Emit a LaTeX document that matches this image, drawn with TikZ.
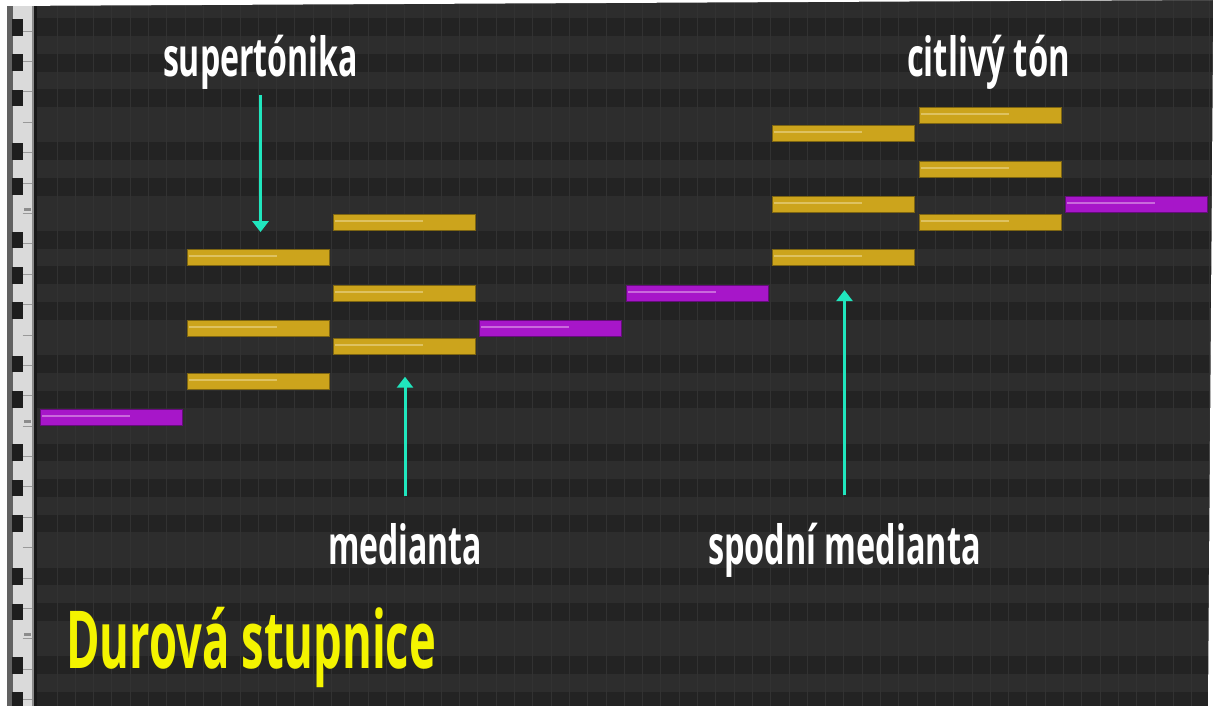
\documentclass[tikz,border=0pt]{standalone}
\usepackage{fontspec}
\setmainfont{Open Sans}
\usepackage{graphicx}
\usetikzlibrary{arrows.meta}

\definecolor{rollLight}{HTML}{2D2D2D}
\definecolor{rollDark}{HTML}{232323}
\definecolor{gridLine}{HTML}{323232}
\definecolor{keyWhite}{HTML}{DADADA}
\definecolor{keyBlack}{HTML}{1E1E1E}
\definecolor{noteYellow}{HTML}{CCA41C}
\definecolor{noteYellowEdge}{HTML}{7D6512}
\definecolor{noteYellowHi}{HTML}{DEC261}
\definecolor{noteMagenta}{HTML}{A716C9}
\definecolor{noteMagentaEdge}{HTML}{650C7B}
\definecolor{noteMagentaHi}{HTML}{C96ADC}
\definecolor{pointerCol}{HTML}{20E6BE}
\definecolor{titleYellow}{HTML}{F4F400}

% \pnote{name}{slot}{row}{colour style}
\newcommand{\pnote}[4]{%
  \node[#4] (#1) at ({38.5+146.4*#2+73.2}, {107+17.72*#3+8.86}) {};
  \draw[#4hl] ([xshift=2pt,yshift=1.5pt]#1.west) -- ++(88,0);
}

\tikzset{
  yel/.style={draw=noteYellowEdge, fill=noteYellow, line width=1pt, inner sep=0pt,
    minimum width=142pt, minimum height=16pt},
  mag/.style={yel, draw=noteMagentaEdge, fill=noteMagenta},
  yelhl/.style={draw=noteYellowHi, line width=2pt},
  maghl/.style={draw=noteMagentaHi, line width=2pt},
  lbl/.style={text=white, inner sep=0pt, anchor=base,
    font=\fontsize{54}{54}\selectfont\bfseries},
  pointer/.style={draw=pointerCol, line width=3pt, -{Triangle[width=16pt,length=11pt]}},
}

\begin{document}
\begin{tikzpicture}[x=1pt, y=-1pt]
  \useasboundingbox (0,0) rectangle (1213,706);

  % piano roll background
  \fill[rollLight] (0,0) rectangle (1213,706);
  \foreach \r in {-5,-3,-1,2,4,7,9,11,14,16,19,21,23,26,28,31,33}
    \fill[rollDark] (37,{107+17.72*\r}) rectangle (1213,{107+17.72*(\r+1)});
  \foreach \k in {1,...,64}
    \draw[gridLine, line width=0.6pt] ({38.5+18.3*\k},0) -- ({38.5+18.3*\k},706);

  % keyboard
  \fill[white] (0,0) rectangle (7,706);
  \fill[black!62] (7,0) rectangle (13,706);
  \fill[keyWhite] (13,0) rectangle (33,706);
  \foreach \k in {-7,...,16}
    \draw[black!40, line width=0.8pt] (22.5,{213.4+30.38*\k}) -- (33,{213.4+30.38*\k});
  \foreach \r in {-5,-3,-1,2,4,7,9,11,14,16,19,21,23,26,28,31,33}
    \fill[keyBlack] (11.5,{107+17.72*\r+0.5}) rectangle (22.5,{107+17.72*(\r+1)-0.5});
  \foreach \r in {5,17,29}
    \fill[black!45] (24,{107+17.72*\r+12}) rectangle (31,{107+17.72*\r+15});
  \fill[black!45] (32,0) rectangle (34,706);
  \fill[black!90] (34,0) rectangle (37,706);
  \fill[white] (0,0) -- (1213,0) -- (0,6) -- cycle;
  \fill[white] (1213,40) -- (1213,706) -- (1208,706) -- cycle;

  % notes of the scale
  \pnote{c1}{0}{17}{mag}
  \pnote{d1}{1}{15}{yel}
  \pnote{f1}{1}{12}{yel}
  \pnote{a1}{1}{8}{yel}
  \pnote{e2}{2}{13}{yel}
  \pnote{g2}{2}{10}{yel}
  \pnote{b2}{2}{6}{yel}
  \pnote{f3}{3}{12}{mag}
  \pnote{g4}{4}{10}{mag}
  \pnote{a5}{5}{8}{yel}
  \pnote{c5}{5}{5}{yel}
  \pnote{e5}{5}{1}{yel}
  \pnote{b6}{6}{6}{yel}
  \pnote{d6}{6}{3}{yel}
  \pnote{f6}{6}{0}{yel}
  \pnote{c7}{7}{5}{mag}

  % labels
  \node[lbl] (supert) at (260.5,77) {\resizebox{195pt}{\height}{supertónika}};
  \node[lbl] (citliv) at (988.5,77) {\resizebox{163pt}{\height}{citlivý tón}};
  \node[lbl] (med) at (405,564) {\resizebox{154pt}{\height}{medianta}};
  \node[lbl] (spmed) at (844.5,564) {\resizebox{273pt}{\height}{spodní medianta}};
  \node[lbl, anchor=base west, text=titleYellow, font=\fontsize{80}{80}\selectfont\bfseries]
    (title) at (66,668) {\resizebox{370pt}{\height}{Durová stupnice}};

  % pointers
  \draw[pointer, shorten <=5pt, shorten >=17pt] (supert.south) -- (supert.south |- a1.north);
  \draw[pointer, shorten <=27pt, shorten >=22pt] (med.north) -- (med.north |- e2.south);
  \draw[pointer, shorten <=27pt, shorten >=24pt] (spmed.north) -- (spmed.north |- a5.south);
\end{tikzpicture}
\end{document}
